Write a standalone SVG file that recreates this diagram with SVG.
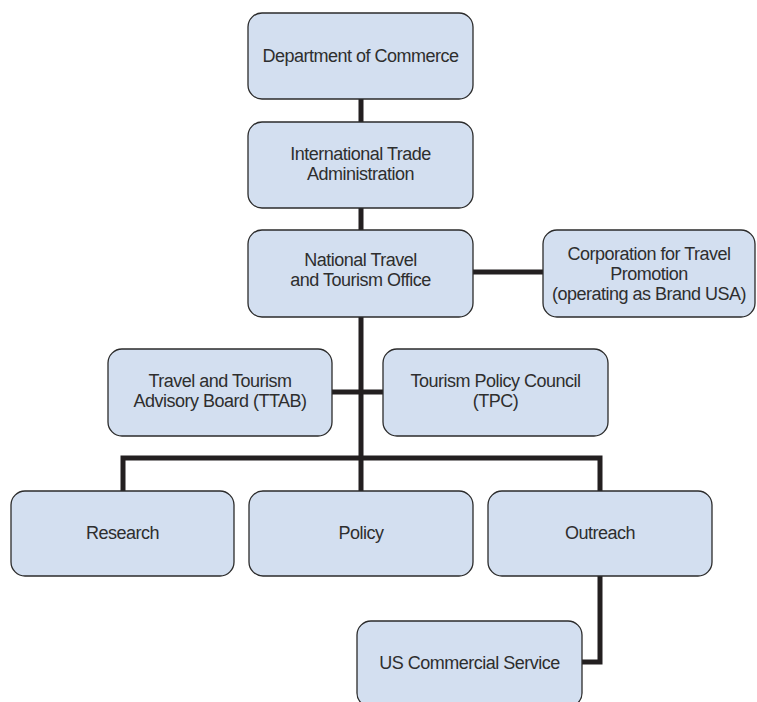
<svg xmlns="http://www.w3.org/2000/svg" width="757" height="702" viewBox="0 0 757 702">
<style>
.box{fill:#d3dff0;stroke:#2b2b2b;stroke-width:1.3}
.t{font-family:"Liberation Sans",Arial,sans-serif;font-size:18px;letter-spacing:-0.5px;fill:#2e2e2e;text-anchor:middle}
.c{fill:none;stroke:#231f20;stroke-width:5;stroke-linejoin:miter}
</style>
<rect width="757" height="702" fill="#ffffff"/>
<g id="connectors">
<path class="c" d="M361 99V122M361 208V230M361 317V491"/>
<path class="c" d="M473 272H543"/>
<path class="c" d="M332 392H383"/>
<path class="c" d="M123 491V458H600V491"/>
<path class="c" d="M600 576V662H582"/>
</g>
<g id="dept"><rect class="box" x="248" y="13" width="225" height="86" rx="14"/><text class="t" x="360.5" y="62">Department of Commerce</text></g>
<g id="ita"><rect class="box" x="248" y="122" width="225" height="86" rx="14"/><text class="t" x="360.5" y="160">International Trade</text><text class="t" x="360.5" y="180">Administration</text></g>
<g id="ntto"><rect class="box" x="248" y="230" width="225" height="87" rx="14"/><text class="t" x="360.5" y="266">National Travel</text><text class="t" x="360.5" y="286">and Tourism Office</text></g>
<g id="brandusa"><rect class="box" x="543" y="230" width="212" height="87" rx="14"/><text class="t" x="649" y="260">Corporation for Travel</text><text class="t" x="649" y="280">Promotion</text><text class="t" x="649" y="300">(operating as Brand USA)</text></g>
<g id="ttab"><rect class="box" x="108" y="349" width="224" height="87" rx="14"/><text class="t" x="220" y="387">Travel and Tourism</text><text class="t" x="220" y="407">Advisory Board (TTAB)</text></g>
<g id="tpc"><rect class="box" x="383" y="349" width="225" height="87" rx="14"/><text class="t" x="495.5" y="387">Tourism Policy Council</text><text class="t" x="495.5" y="407">(TPC)</text></g>
<g id="research"><rect class="box" x="11" y="491" width="223" height="85" rx="14"/><text class="t" x="122.5" y="539">Research</text></g>
<g id="policy"><rect class="box" x="249" y="491" width="224" height="85" rx="14"/><text class="t" x="361" y="539">Policy</text></g>
<g id="outreach"><rect class="box" x="488" y="491" width="224" height="85" rx="14"/><text class="t" x="600" y="539">Outreach</text></g>
<g id="uscs"><rect class="box" x="357" y="621" width="225" height="86" rx="14"/><text class="t" x="469.5" y="669">US Commercial Service</text></g>
</svg>
